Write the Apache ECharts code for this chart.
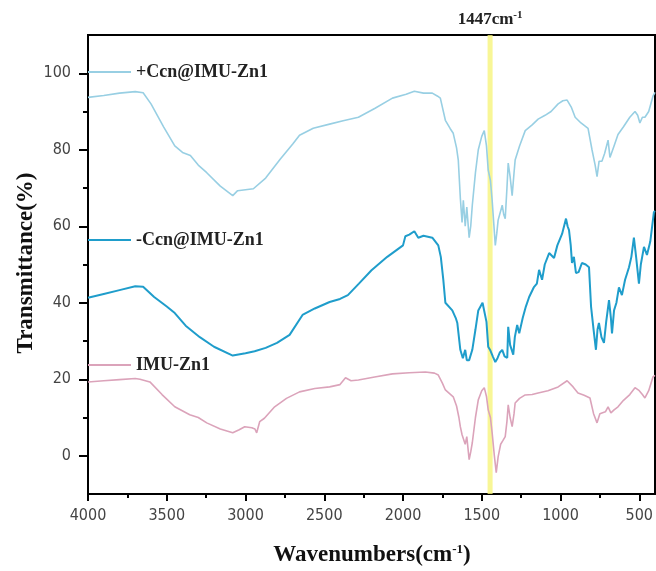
<!DOCTYPE html>
<html>
<head>
<meta charset="utf-8">
<script src="https://cdn.jsdelivr.net/npm/echarts@6/dist/echarts.min.js"></script>
<style>
  html, body { margin: 0; padding: 0; background: #fff; }
  #chart { width: 656px; height: 571px; }
</style>
</head>
<body>
<div id="chart"></div>
<script>
// FTIR spectra, wavenumber (cm-1) vs transmittance (%)
var seriesNames = ['+Ccn@IMU-Zn1', '-Ccn@IMU-Zn1', 'IMU-Zn1'];
var seriesColors = ['#98cfe3', '#1f9dcb', '#dba3ba'];

var xMajorTicks = [4000, 3500, 3000, 2500, 2000, 1500, 1000, 500];
var xMinorTicks = [3750, 3250, 2750, 2250, 1750, 1250, 750];
var yMajorTicks = [0, 20, 40, 60, 80, 100];
var yMinorTicks = [10, 30, 50, 70, 90];

var markWavenumber = 1447;

var wnPlus = [4000, 3900, 3800, 3700, 3650, 3600, 3520, 3449, 3400, 3350, 3300, 3246, 3160, 3081, 3050, 2950, 2872, 2780, 2700, 2657,
  2570, 2466, 2380, 2283, 2180, 2067, 1980, 1928, 1870, 1814, 1780, 1763, 1731, 1700, 1681, 1660, 1649, 1636, 1625, 1617,
  1605, 1595, 1580, 1570, 1560, 1540, 1522, 1500, 1484, 1470, 1459, 1445, 1434, 1414, 1405, 1396, 1380, 1370, 1360, 1351,
  1340, 1332, 1320, 1307, 1295, 1288, 1260, 1224, 1180, 1142, 1098, 1060, 1015, 985, 958, 930, 907, 870, 825, 800,
  780, 768, 755, 737, 720, 698, 686, 660, 635, 600, 560, 527, 510, 496, 480, 464, 440, 413, 400];
var tPlus = [93.7, 94.2, 94.8, 95.2, 94.9, 92, 86, 81, 79.3, 78.5, 76, 74, 70.5, 68, 69.3, 69.8, 72.6, 77.5, 81.5, 83.8,
  85.6, 86.7, 87.6, 88.5, 90.8, 93.5, 94.5, 95.3, 94.8, 94.8, 94, 93.5, 87.7, 85.5, 84.3, 80.5, 77.3, 67.4, 61, 66.8,
  60, 65, 57, 60, 65.5, 74, 80, 83.5, 85, 81, 74.7, 72, 66.8, 55, 58, 61.6, 64, 65.5, 63, 62,
  70, 76.5, 73, 68, 74, 77.3, 81, 85, 86.5, 88, 89, 90, 92, 92.8, 93, 91, 88.5, 87, 85.6, 80,
  76, 73, 77, 77, 79, 82.5, 78, 81, 84, 86, 88.5, 90, 89, 87, 88.5, 88.5, 90, 94, 95];

var wnMinus = [4000, 3900, 3800, 3700, 3650, 3580, 3500, 3449, 3380, 3290, 3200, 3081, 3000, 2942, 2872, 2800, 2720, 2638, 2560, 2466,
  2400, 2350, 2280, 2200, 2100, 2000, 1985, 1960, 1928, 1903, 1870, 1814, 1776, 1760, 1744, 1731, 1687, 1665, 1655, 1636,
  1620, 1605, 1595, 1580, 1560, 1540, 1522, 1495, 1484, 1470, 1459, 1445, 1430, 1414, 1400, 1385, 1370, 1355, 1338, 1332,
  1320, 1300, 1290, 1275, 1262, 1240, 1220, 1199, 1170, 1150, 1136, 1117, 1100, 1072, 1041, 1020, 990, 965, 955, 946,
  935, 927, 915, 902, 885, 864, 840, 819, 806, 790, 775, 765, 756, 740, 724, 710, 692, 680, 673, 660,
  645, 629, 610, 590, 565, 550, 534, 520, 502, 490, 470, 451, 430, 407, 400];
var tMinus = [41.3, 42.3, 43.3, 44.3, 44.2, 41.5, 39, 37.3, 34, 31, 28.5, 26.2, 26.8, 27.3, 28.2, 29.5, 31.6, 36.8, 38.5, 40.2,
  41, 42, 45, 48.5, 52, 55, 57.4, 57.8, 58.7, 57, 57.5, 57, 55, 52, 46, 40, 38, 36, 34.7, 27.7,
  25.5, 27.7, 25, 25, 27.7, 33, 38, 40, 40.2, 35, 28.5, 27.5, 26, 24.5, 25.5, 27, 27.7, 26, 25.6, 33.7,
  29, 26.4, 31, 34.2, 32, 36, 39, 41.5, 44, 45, 48.6, 46, 50, 53, 51.7, 55, 58, 62, 60, 59,
  55, 50.4, 52, 47.8, 48, 50.4, 50, 49.3, 39, 33, 27.7, 33, 34.7, 31, 29.5, 35, 40.7, 36, 32, 38,
  40, 44, 42, 46, 49.3, 52, 57, 52, 45, 50, 54.6, 52.5, 56, 63.7, 64];

var wnBase = [4000, 3900, 3800, 3700, 3670, 3607, 3530, 3449, 3354, 3300, 3246, 3160, 3081, 3040, 3005, 2960, 2940, 2929, 2910, 2880,
  2815, 2740, 2657, 2560, 2466, 2400, 2365, 2330, 2283, 2180, 2067, 1960, 1858, 1800, 1776, 1750, 1731, 1681, 1660, 1645,
  1636, 1625, 1617, 1605, 1595, 1580, 1570, 1560, 1540, 1522, 1500, 1484, 1470, 1459, 1445, 1434, 1420, 1408, 1396, 1380,
  1365, 1351, 1340, 1332, 1320, 1307, 1295, 1288, 1260, 1224, 1180, 1142, 1080, 1015, 958, 920, 889, 850, 813, 790,
  768, 750, 737, 715, 698, 680, 660, 635, 600, 560, 527, 500, 480, 464, 440, 413, 400];
var tBase = [19.3, 19.6, 19.9, 20.2, 20, 19.3, 16, 12.8, 10.7, 10, 8.6, 7, 6, 6.8, 7.6, 7.3, 7, 6, 8.9, 9.8,
  12.8, 15, 16.7, 17.6, 18, 18.6, 20.4, 19.6, 19.8, 20.6, 21.4, 21.7, 21.9, 21.6, 21.1, 19, 17.2, 15.4, 13, 10,
  7.6, 5.5, 6, 3, 5, -1, 1, 3.4, 10, 14.6, 17, 17.8, 15.5, 12, 10, 6, 0, -4.4, -0.3, 3,
  4, 5, 9, 13.3, 10, 7.6, 11, 13.8, 15, 15.9, 16, 16.4, 17, 18, 19.6, 18, 16.4, 15.8, 15.1, 11,
  8.6, 11, 11.2, 11.5, 12.8, 11.2, 12, 12.8, 14.5, 16, 17.8, 17, 16, 15.1, 17, 20.6, 21];

function pairs(xs, ys) {
  var out = [];
  for (var i = 0; i < xs.length; i++) {
    out.push([xs[i], ys[i]]);
  }
  return out;
}

var serif = '"Liberation Serif", "DejaVu Serif", serif';
var tickFont = '"DejaVu Sans Condensed", "DejaVu Sans", sans-serif';
var tickStyle = { color: '#000', width: 2 };

var chart = echarts.init(document.getElementById('chart'), null, { renderer: 'canvas' });

var lines = [pairs(wnPlus, tPlus), pairs(wnMinus, tMinus), pairs(wnBase, tBase)];
var widths = [1.6, 2, 1.6];
var series = lines.map(function (d, i) {
  return {
    name: seriesNames[i],
    type: 'line',
    xAxisIndex: 0,
    yAxisIndex: 0,
    data: d,
    symbol: 'none',
    color: seriesColors[i],
    lineStyle: { width: widths[i], color: seriesColors[i] },
    z: 2
  };
});

// yellow band marking 1447 cm-1, drawn over the spectra
series.push({
  name: 'mark',
  type: 'line',
  data: [],
  z: 5,
  markArea: {
    silent: true,
    itemStyle: { color: 'rgba(246, 244, 120, 0.78)' },
    label: {
      show: true,
      position: 'top',
      distance: 6,
      formatter: '{a|' + markWavenumber + 'cm}{b|-1}',
      rich: {
        a: { fontFamily: serif, fontWeight: 'bold', fontSize: 17, color: '#222' },
        b: { fontFamily: serif, fontWeight: 'bold', fontSize: 11, color: '#222', verticalAlign: 'top', padding: [0, 0, 8, 0] }
      }
    },
    data: [[{ xAxis: markWavenumber + 16 }, { xAxis: markWavenumber - 16 }]]
  }
});

function legendAt(name, top) {
  return {
    data: [name],
    left: 88,
    top: top,
    padding: 0,
    icon: 'rect',
    itemWidth: 43,
    itemHeight: 2,
    itemGap: 0,
    textStyle: { fontFamily: serif, fontWeight: 'bold', fontSize: 18, color: '#222' }
  };
}

// plain axis carrying only ticks, stacked on a main axis
function tickAxis(ticks, len, extra) {
  var ax = {
    type: 'value',
    splitLine: { show: false },
    axisLine: { show: false, onZero: false },
    axisTick: { show: true, length: len, customValues: ticks, lineStyle: tickStyle },
    axisLabel: { show: false }
  };
  for (var k in extra) ax[k] = extra[k];
  return ax;
}

var option = {
  animation: false,
  backgroundColor: '#fff',
  grid: {
    left: 88, right: 1, top: 35, bottom: 77,
    show: true, borderColor: '#000', borderWidth: 2, backgroundColor: 'transparent'
  },
  legend: [
    legendAt(seriesNames[0], 63),
    legendAt(seriesNames[1], 231),
    legendAt(seriesNames[2], 356)
  ],
  xAxis: [{
    type: 'value',
    inverse: true,
    min: 400,
    max: 4000,
    position: 'bottom',
    splitLine: { show: false },
    axisLine: { show: true, onZero: false, lineStyle: { color: '#000', width: 2 } },
    axisTick: { show: false },
    axisLabel: {
      customValues: xMajorTicks, margin: 14, fontFamily: tickFont, fontSize: 16, color: '#444',
      formatter: function (v) { return String(v); }
    }
  },
    tickAxis(xMajorTicks, 7, { inverse: true, min: 400, max: 4000, position: 'bottom' }),
    tickAxis(xMinorTicks, 4, { inverse: true, min: 400, max: 4000, position: 'bottom' })
  ],
  yAxis: [{
    type: 'value',
    min: -10,
    max: 110,
    position: 'left',
    splitLine: { show: false },
    axisLine: { show: true, onZero: false, lineStyle: { color: '#000', width: 2 } },
    axisTick: { show: false },
    axisLabel: { customValues: yMajorTicks, margin: 17, fontFamily: tickFont, fontSize: 16, color: '#444' }
  },
    tickAxis(yMajorTicks, 9, { min: -10, max: 110, position: 'left' }),
    tickAxis(yMinorTicks, 5, { min: -10, max: 110, position: 'left' })
  ],
  graphic: [{
    type: 'text',
    x: 372,
    y: 555,
    style: {
      text: 'Wavenumbers(cm{s|-1})',
      rich: {
        s: { fontFamily: serif, fontWeight: 'bold', fontSize: 13, verticalAlign: 'top', padding: [0, 0, 10, 0] }
      },
      font: 'bold 23px ' + serif,
      fill: '#111',
      align: 'center',
      verticalAlign: 'middle'
    }
  }, {
    type: 'text',
    x: 26,
    y: 263,
    rotation: Math.PI / 2,
    style: {
      text: 'Transmittance(%)',
      font: 'bold 23px ' + serif,
      fill: '#111',
      align: 'center',
      verticalAlign: 'middle'
    }
  }],
  series: series
};

chart.setOption(option);
</script>
</body>
</html>
